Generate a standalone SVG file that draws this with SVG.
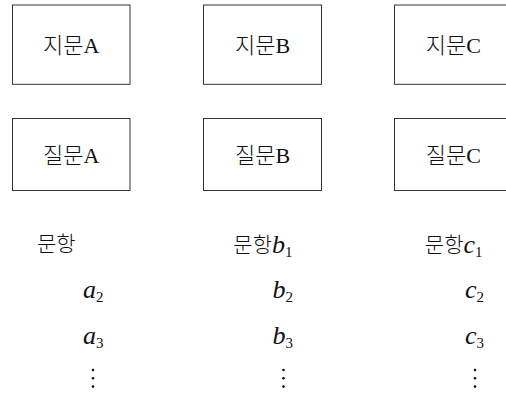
<svg xmlns="http://www.w3.org/2000/svg" width="506" height="393" viewBox="0 0 506 393">
<style>
.box{fill:#fff;stroke:#333;stroke-width:1}
.lbl{font-family:"Liberation Serif","Noto Sans CJK KR",serif;font-weight:300;font-size:22px;fill:#111;text-anchor:middle}
.kr{font-family:"Noto Sans CJK KR","Liberation Serif",sans-serif;font-style:normal;font-weight:300;font-size:21px;fill:#111}
.m{font-family:"Liberation Serif","DejaVu Serif",serif;font-style:italic;font-size:26px;fill:#111}
.sub{font-family:"Liberation Serif","DejaVu Serif",serif;font-style:normal;font-size:15px}
.end{text-anchor:end}
.dot{fill:#111}
</style>
<rect width="506" height="393" fill="#fff"/>
<g id="node-jimun-a"><rect class="box" x="12.5" y="5" width="117.5" height="79.3"/><text class="lbl" x="71.3" y="53.3">지문A</text></g>
<g id="node-jimun-b"><rect class="box" x="203.5" y="5" width="118" height="79.3"/><text class="lbl" x="262.5" y="53.3">지문B</text></g>
<g id="node-jimun-c"><rect class="box" x="394.5" y="5" width="117.5" height="79.3"/><text class="lbl" x="453.3" y="53.3">지문C</text></g>
<g id="node-jilmun-a"><rect class="box" x="12.5" y="118.5" width="117.5" height="72"/><text class="lbl" x="71.3" y="163.3">질문A</text></g>
<g id="node-jilmun-b"><rect class="box" x="203.5" y="118.5" width="118" height="72"/><text class="lbl" x="262.5" y="163.3">질문B</text></g>
<g id="node-jilmun-c"><rect class="box" x="394.5" y="118.5" width="117.5" height="72"/><text class="lbl" x="453.3" y="163.3">질문C</text></g>
<g id="connectors"></g>
<g id="items-a">
<text class="kr" x="37" y="251">문항</text>
<text class="m end" x="103.5" y="298">a<tspan class="sub" dy="4">2</tspan></text>
<text class="m end" x="103.5" y="344">a<tspan class="sub" dy="4">3</tspan></text>
<circle class="dot" cx="93" cy="370" r="1.3"/><circle class="dot" cx="93" cy="378.3" r="1.3"/><circle class="dot" cx="93" cy="386.6" r="1.3"/>
</g>
<g id="items-b">
<text class="m end" x="292.5" y="253"><tspan class="kr" dy="-1.5">문항</tspan><tspan dy="1.5">b</tspan><tspan class="sub" dy="4">1</tspan></text>
<text class="m end" x="293" y="298">b<tspan class="sub" dy="4">2</tspan></text>
<text class="m end" x="293" y="344">b<tspan class="sub" dy="4">3</tspan></text>
<circle class="dot" cx="283.5" cy="370" r="1.3"/><circle class="dot" cx="283.5" cy="378.3" r="1.3"/><circle class="dot" cx="283.5" cy="386.6" r="1.3"/>
</g>
<g id="items-c">
<text class="m end" x="482.5" y="253"><tspan class="kr" dy="-1.5">문항</tspan><tspan dy="1.5">c</tspan><tspan class="sub" dy="4">1</tspan></text>
<text class="m end" x="484" y="298">c<tspan class="sub" dy="4">2</tspan></text>
<text class="m end" x="484" y="344">c<tspan class="sub" dy="4">3</tspan></text>
<circle class="dot" cx="475" cy="370" r="1.3"/><circle class="dot" cx="475" cy="378.3" r="1.3"/><circle class="dot" cx="475" cy="386.6" r="1.3"/>
</g>
</svg>
